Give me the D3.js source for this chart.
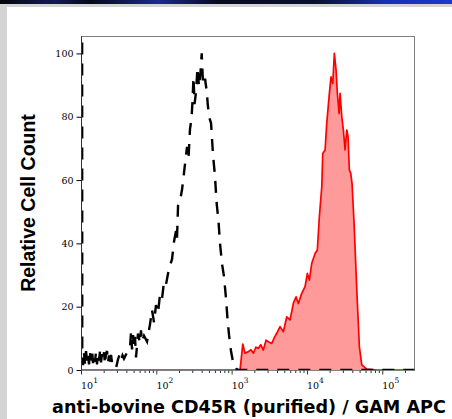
<!DOCTYPE html>
<html>
<head>
<meta charset="utf-8">
<script src="https://cdn.jsdelivr.net/npm/d3@7"></script>
<style>
  html, body { margin: 0; padding: 0; background: #fff; }
  svg { display: block; }
</style>
</head>
<body>
<script>
// Histogram overlay: isotype (black dashed) vs stained (red filled)
// x values are read in decades (log10 of fluorescence), y is relative cell count

const yTicks = [0, 20, 40, 60, 80, 100];
const xDecades = [1, 2, 3, 4, 5];

// black dashed (control) histogram
const ctrlDecade = [1.008, 1.01, 1.02, 1.033, 1.046, 1.06, 1.073, 1.086, 1.1, 1.113, 1.126, 1.14, 1.153, 1.166,
    1.179, 1.193, 1.206, 1.219, 1.232, 1.246, 1.259, 1.272, 1.286, 1.299, 1.312, 1.325, 1.339, 1.352, 1.365,
    1.378, 1.392, 1.405, 1.418, 1.458, 1.485, 1.505, 1.525, 1.545, 1.564, 1.604, 1.644, 1.658, 1.671, 1.684,
    1.697, 1.71, 1.724, 1.75, 1.777, 1.79, 1.803, 1.83, 1.87, 1.91, 1.936, 1.963, 1.989, 2.016, 2.043, 2.069,
    2.096, 2.122, 2.149, 2.175, 2.202, 2.228, 2.255, 2.268, 2.282, 2.308, 2.335, 2.355, 2.374, 2.401, 2.421,
    2.44, 2.461, 2.474, 2.487, 2.501, 2.521, 2.54, 2.56, 2.58, 2.596, 2.614, 2.64, 2.663, 2.676, 2.693, 2.72,
    2.746, 2.773, 2.793, 2.819, 2.839, 2.866, 2.892, 2.919, 2.939, 2.959, 2.985, 3.012, 3.052, 3.078, 5.4185];
const ctrlCount = [130, 5, 1.5, 5.5, 2, 6, 2.8, 5, 1.8, 5.5, 3, 6.2, 2.2, 4.8,
    2.6, 5.8, 1.8, 5.3, 3, 6, 2.4, 5, 3.2, 5.6, 1.8, 5.2, 6, 2.4, 4.6,
    1.6, 4.8, 2.4, 1.2, 0.6, 3.4, 4.8, 3, 4.6, 3.6, 5.5, 7, 12, 6.5, 11,
    7.5, 10.5, 4, 11.5, 8.5, 12.5, 9, 10.8, 9, 14.5, 19, 15, 20.5, 18, 24, 22.5,
    28, 27, 30.5, 33, 35, 40.5, 44, 41.5, 52, 53.5, 57, 61, 65, 70.5, 67,
    76, 79.5, 85, 92.5, 84, 88, 95.5, 89.5, 94, 100, 90, 92, 88, 84, 80, 78,
    68, 61, 53, 47, 40, 33.5, 29.5, 22.5, 16, 11, 6, 2.5, 0.5, 0, 0];

// red filled (CD45R) histogram
const cd45Decade = [1.0, 3.105, 3.141, 3.171, 3.215, 3.25, 3.282, 3.315, 3.348, 3.38, 3.414, 3.45, 3.481, 3.526,
    3.56, 3.592, 3.636, 3.68, 3.725, 3.769, 3.813, 3.849, 3.879, 3.924, 3.968, 3.999, 4.025, 4.057, 4.101,
    4.131, 4.158, 4.19, 4.203, 4.234, 4.256, 4.291, 4.313, 4.336, 4.357, 4.38, 4.397, 4.42, 4.433, 4.456,
    4.477, 4.499, 4.522, 4.539, 4.556, 4.575, 4.592, 4.619, 4.655, 4.689, 4.721, 4.788, 4.92, 5.4185];
const cd45Count = [0, 0, 8.2, 5.3, 5.8, 6.4, 5.3, 7.2, 6.9, 8, 6.3, 9.4, 8.9, 8.4,
    10.2, 11.6, 13.7, 12.1, 16.8, 15.8, 21.1, 23.1, 21, 24.2, 26.3, 30.5, 28.4, 33.7, 36.8,
    37.9, 48.4, 57.9, 68.4, 69.5, 77.9, 87.4, 92.6, 90.5, 100, 94.7, 87.4, 81, 87.4, 80,
    75.8, 69.5, 75.8, 73.7, 63.2, 62.1, 58.9, 46.3, 25.3, 7.4, 1.6, 0.3, 0, 0];

const xLabel = "anti-bovine CD45R (purified) / GAM APC";
const yLabel = "Relative Cell Count";

const W = 452, H = 419;
const plot = { left: 81, top: 36, right: 415, bottom: 370 };

const svg = d3.select("body").append("svg")
    .attr("width", W)
    .attr("height", H);

// page chrome round the figure
const defs = svg.append("defs");
const grad = defs.append("linearGradient").attr("id", "topbar");
[[0, "#05060c"], [0.12, "#101a55"], [0.2, "#06081a"], [0.35, "#1a2a90"], [0.48, "#070a20"],
 [0.7, "#0a0f30"], [0.85, "#1630b0"], [1, "#1a3ad0"]].forEach(function(s) {
    grad.append("stop").attr("offset", s[0]).attr("stop-color", s[1]);
});
svg.append("rect").attr("x", 0).attr("y", 0).attr("width", W).attr("height", 4).attr("fill", "url(#topbar)");
svg.append("rect").attr("x", 0).attr("y", 4).attr("width", W).attr("height", 3).attr("fill", "#d4d4d4");
svg.append("rect").attr("x", 0).attr("y", 4).attr("width", 7).attr("height", H).attr("fill", "#d4d4d4");

defs.append("clipPath").attr("id", "plotclip")
    .append("rect")
    .attr("x", plot.left).attr("y", plot.top)
    .attr("width", plot.right - plot.left).attr("height", plot.bottom - plot.top);

var x = d3.scaleLog()
    .domain([10, Math.pow(10, 5.4185)])
    .range([81.5, 414.3]);

var y = d3.scaleLinear()
    .domain([0, 105.5])
    .range([plot.bottom, plot.top]);

// frame
svg.append("rect")
    .attr("x", plot.left + 0.5).attr("y", plot.top + 0.5)
    .attr("width", plot.right - plot.left - 1).attr("height", plot.bottom - plot.top)
    .attr("fill", "none")
    .attr("stroke", "#808080")
    .attr("stroke-width", 1);

var g = svg.append("g").attr("clip-path", "url(#plotclip)");

var cd45 = cd45Decade.map(function(d, i) { return { v: Math.pow(10, d), c: cd45Count[i] }; });
var ctrl = ctrlDecade.map(function(d, i) { return { v: Math.pow(10, d), c: ctrlCount[i] }; });

var area = d3.area()
    .x(function(d) { return x(d.v); })
    .y0(y(0))
    .y1(function(d) { return y(d.c); });

var line = d3.line()
    .x(function(d) { return x(d.v); })
    .y(function(d) { return y(d.c); });

g.append("path")
    .datum(cd45)
    .attr("d", area)
    .attr("fill", "#ff9a9a");

g.append("path")
    .datum(cd45)
    .attr("d", line)
    .attr("fill", "none")
    .attr("stroke", "#ff0000")
    .attr("stroke-width", 1.7)
    .attr("stroke-linejoin", "round");

g.append("path")
    .datum(ctrl)
    .attr("d", line)
    .attr("fill", "none")
    .attr("stroke", "#000")
    .attr("stroke-width", 2.4)
    .attr("stroke-dasharray", "12,9");

// y axis
var yAxis = d3.axisLeft(y).tickValues(yTicks).tickSize(5).tickPadding(3);
var ya = svg.append("g")
    .attr("transform", "translate(" + (plot.left + 0.5) + ",0)")
    .call(yAxis);
ya.select(".domain").attr("stroke", "#333").attr("d", "M0," + plot.top + "V" + plot.bottom);
ya.selectAll("text")
    .attr("font-family", "DejaVu Serif, serif")
    .attr("font-size", 9.5)
    .attr("fill", "#000");

// x axis: decades with minor ticks
var minor = [];
xDecades.forEach(function(d) {
    for (var k = 1; k < 10; k++) {
        var v = k * Math.pow(10, d);
        if (v <= x.domain()[1]) minor.push(v);
    }
});
var xa = svg.append("g").attr("transform", "translate(0," + (plot.bottom + 0.5) + ")");
xa.selectAll("line.tick")
    .data(minor)
    .enter().append("line")
    .attr("x1", function(d) { return x(d); })
    .attr("x2", function(d) { return x(d); })
    .attr("y1", 0)
    .attr("y2", function(d, i) { return i % 9 === 0 ? 4 : 2.5; })
    .attr("stroke", "#333")
    .attr("stroke-width", 1);

var xl = xa.selectAll("text.lab")
    .data(xDecades)
    .enter().append("text")
    .attr("x", function(d) { return x(Math.pow(10, d)) + 8; })
    .attr("y", 18)
    .attr("text-anchor", "middle")
    .attr("font-family", "DejaVu Serif, serif")
    .attr("font-size", 9.5)
    .attr("fill", "#000");
xl.append("tspan").text("10");
xl.append("tspan").attr("dy", -6).attr("font-size", 7.5).text(function(d) { return d; });

// axis titles
svg.append("text")
    .attr("x", 249)
    .attr("y", 413)
    .attr("text-anchor", "middle")
    .attr("font-family", "DejaVu Sans, Verdana, sans-serif")
    .attr("font-weight", "bold")
    .attr("font-size", 17.6)
    .attr("fill", "#000")
    .text(xLabel);

svg.append("text")
    .attr("transform", "translate(35,203) rotate(-90)")
    .attr("text-anchor", "middle")
    .attr("font-family", "Liberation Sans, Arial, sans-serif")
    .attr("font-weight", "bold")
    .attr("font-size", 19.5)
    .attr("fill", "#000")
    .text(yLabel);
</script>
</body>
</html>
